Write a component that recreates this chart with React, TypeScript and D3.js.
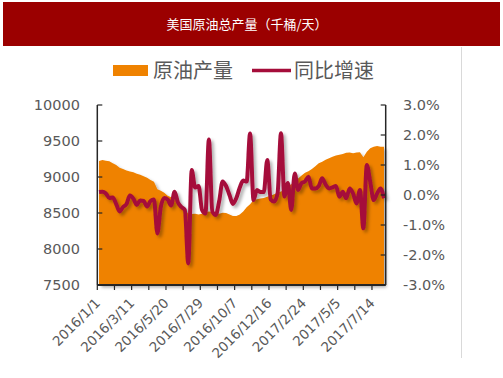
import React from "react";
import * as d3 from "d3";

const production: number[] = [
  9222, 9235, 9227, 9220, 9190, 9165, 9130, 9110, 9090, 9077,
  9065, 9045, 9030, 9010, 8990, 8960, 8935, 8830, 8810, 8780,
  8740, 8720, 8700, 8650, 8600, 8550, 8490, 8486, 8490, 8480,
  8490, 8510, 8520, 8515, 8500, 8490, 8505, 8500, 8480, 8460,
  8458, 8480, 8520, 8580, 8620, 8680, 8690, 8700, 8710, 8727,
  8740, 8760, 8780, 8800, 8820, 8860, 8900, 8935, 8980, 9020,
  9060, 9080, 9110, 9150, 9190, 9213, 9240, 9260, 9280, 9300,
  9310, 9320, 9338, 9340, 9330, 9340, 9343, 9273, 9350, 9398,
  9420, 9429, 9420, 9421,
];

const growth: number[] = [
  0.10, 0.11, 0.05, -0.10, -0.08, -0.30, -0.55, -0.40, -0.30, -0.02,
  -0.12, -0.33, -0.18, -0.20, -0.38, -0.20, -0.15, -1.28, -0.40, -0.10,
  -0.15, -0.35, 0.11, -0.25, -0.40, -0.50, -2.28, 0.83, 0.25, 0.30,
  -0.50, -0.62, 1.85, -0.55, -0.67, -0.20, 0.45, 0.30, 0.00, -0.30,
  -0.10, 0.25, 0.48, 0.45, 2.05, -0.17, 0.17, 0.10, 0.10, 1.17,
  -0.15, -0.22, 0.05, 2.06, -0.05, 0.40, -0.50, 0.72, 0.17, 0.40,
  0.45, 0.61, 0.22, 0.22, 0.30, 0.56, 0.35, 0.22, 0.25, 0.30,
  -0.06, 0.11, -0.11, 0.22, 0.05, -0.28, 0.17, -1.11, 1.00, 0.44,
  -0.17, 0.05, 0.22, -0.11,
];

const dateLabels: string[] = [
  "2016/1/1", "2016/3/11", "2016/5/20", "2016/7/29", "2016/10/7",
  "2016/12/16", "2017/2/24", "2017/5/5", "2017/7/14",
];

const leftTicks: number[] = [7500, 8000, 8500, 9000, 9500, 10000];
const rightTicks: number[] = [-3, -2, -1, 0, 1, 2, 3];

const title = "美国原油总产量（千桶/天）";
const legendArea = "原油产量";
const legendLine = "同比增速";

const ORANGE = "#EF8200";
const RED = "#A50D3A";
const TEXT = "#595959";
const NUMFONT = "'DejaVu Sans', sans-serif";
const CJK = "'Noto Sans CJK SC', sans-serif";

export default function App() {
  const W = 503, H = 378;
  const left = 97.3, right = 385.7, top = 105, bottom = 285;
  const n = production.length;
  const x = d3.scaleBand<number>().domain(d3.range(n)).range([left, right]).padding(0);
  const bw = x.bandwidth();
  const cx = (i: number) => (x(i) as number) + bw / 2;
  const yL = d3.scaleLinear().domain([7500, 10000]).range([bottom, top]);
  const yR = d3.scaleLinear().domain([-3, 3]).range([bottom, top]);

  const areaGen = d3.area<number>().x((_, i) => cx(i)).y0(bottom).y1((d) => yL(d));
  const lineGen = d3.line<number>().x((_, i) => cx(i)).y((d) => yR(d)).curve(d3.curveMonotoneX);

  const tickIdx = d3.range(0, n + 1, 5).filter((k) => k < n);

  return (
    <svg width={W} height={H} style={{ position: "absolute", left: 0, top: 0, background: "#fff" }}>
      <defs>
        <filter id="shadow" x="-10%" y="-10%" width="130%" height="130%">
          <feDropShadow dx="2.5" dy="2.5" stdDeviation="1.8" floodColor="#000" floodOpacity="0.3" />
        </filter>
      </defs>
      <rect x={0} y={0} width={W} height={H} fill="#fff" />
      <rect x={3} y={2} width={497} height={44} fill="#9B0000" />
      <text x={247} y={29} fill="#fff" fontSize={13} fontFamily={CJK} textAnchor="middle">
        {title}
      </text>
      <line x1={461.5} y1={47} x2={461.5} y2={358} stroke="#D9D9D9" strokeWidth={1} />

      {/* legend */}
      <rect x={113} y={65} width={35} height={11} fill={ORANGE} />
      <text x={153} y={78} fill={TEXT} fontSize={20} fontFamily={CJK}>{legendArea}</text>
      <line x1={252} y1={70.5} x2={291} y2={70.5} stroke={RED} strokeWidth={3.5} />
      <text x={294} y={78} fill={TEXT} fontSize={20} fontFamily={CJK}>{legendLine}</text>

      {/* area and line */}
      <path d={areaGen(production) || ""} fill={ORANGE} filter="url(#shadow)" />
      <path d={lineGen(growth) || ""} fill="none" stroke={RED} strokeWidth={4} strokeLinejoin="round" filter="url(#shadow)" />

      {/* left axis */}
      <line x1={left} y1={top} x2={left} y2={bottom} stroke="#262626" strokeWidth={1.5} />
      {leftTicks.map((t) => (
        <g key={"l" + t}>
          <line x1={left} x2={left + 5} y1={yL(t)} y2={yL(t)} stroke="#262626" strokeWidth={1.2} />
          <text x={80} y={yL(t) + 5} fill={TEXT} fontSize={14.5} fontFamily={NUMFONT} textAnchor="end">{t}</text>
        </g>
      ))}

      {/* right axis */}
      <line x1={right} y1={top} x2={right} y2={bottom} stroke="#262626" strokeWidth={1.5} />
      {rightTicks.map((t) => (
        <g key={"r" + t}>
          <line x1={right - 5} x2={right} y1={yR(t)} y2={yR(t)} stroke="#262626" strokeWidth={1.2} />
          <text x={403} y={yR(t) + 5} fill={TEXT} fontSize={14.5} fontFamily={NUMFONT}>
            {t.toFixed(1) + "%"}
          </text>
        </g>
      ))}

      {/* bottom axis */}
      <line x1={left} y1={bottom} x2={right} y2={bottom} stroke="#262626" strokeWidth={1.8} />
      {tickIdx.map((k) => (
        <line key={"t" + k} x1={x(k) as number} x2={x(k) as number} y1={bottom} y2={bottom + 5} stroke="#262626" strokeWidth={1.2} />
      ))}
      {dateLabels.map((lab, j) => {
        const px = cx(j * 10) + 2;
        const py = bottom + 19;
        return (
          <text key={lab} x={px} y={py} fill={TEXT} fontSize={13.5} fontFamily={NUMFONT} textAnchor="end"
            transform={`rotate(-45 ${px} ${py})`}>
            {lab}
          </text>
        );
      })}
    </svg>
  );
}
